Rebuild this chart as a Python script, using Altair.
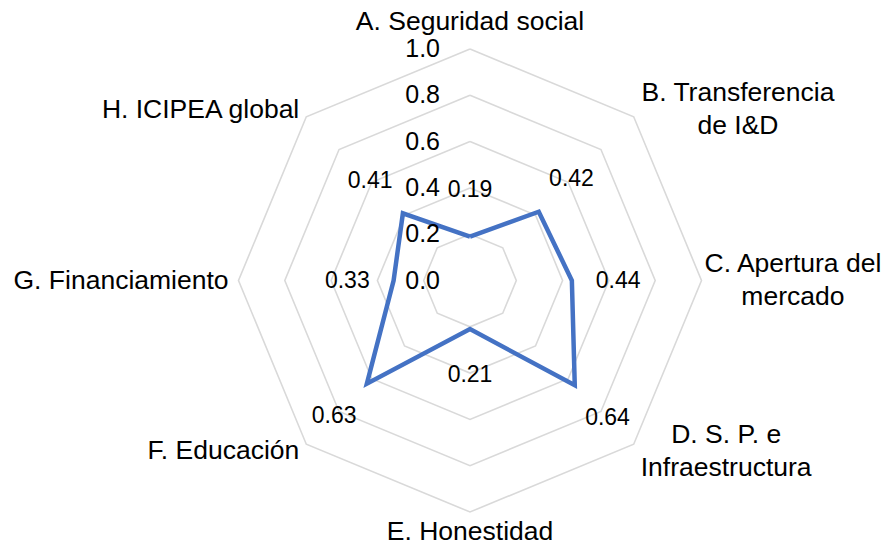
import math
import altair as alt
import pandas as pd

# ---------------- data ----------------
categories = [
    "A. Seguridad social",
    "B. Transferencia\nde I&D",
    "C. Apertura del\nmercado",
    "D. S. P. e\nInfraestructura",
    "E. Honestidad",
    "F. Educación",
    "G. Financiamiento",
    "H. ICIPEA global",
]
values = [0.19, 0.42, 0.44, 0.64, 0.21, 0.63, 0.33, 0.41]
value_labels = ["0.19", "0.42", "0.44", "0.64", "0.21", "0.63", "0.33", "0.41"]
tick_values = [0.0, 0.2, 0.4, 0.6, 0.8, 1.0]
tick_labels = ["0.0", "0.2", "0.4", "0.6", "0.8", "1.0"]

# ---------------- layout ----------------
W, H = 877, 534          # drawing area (page has 8px margin)
CX, CY = 462, 272.5      # centre of the radar in plot pixels
R = 231.5                # pixel radius of value 1.0
N = len(categories)
FONT = "Liberation Sans"
CAT_SIZE = 26.5
TICK_SIZE = 25
VAL_SIZE = 23
LINE_H = 33
LINE_BLUE = "#4472C4"
GRID = "#d9d9d9"
XMAX = (W - CX) / R

# Arial/Liberation Sans advance widths (per 1000 em) to centre two-line labels
AW = {" ": 278, ".": 278, "&": 667, "A": 667, "B": 667, "C": 722, "D": 722,
      "E": 667, "F": 611, "G": 778, "H": 722, "I": 278, "P": 667, "S": 667,
      "T": 611, "a": 556, "b": 556, "c": 500, "d": 556, "e": 556, "f": 278,
      "g": 556, "i": 222, "l": 222, "m": 833, "n": 556, "o": 556, "p": 556,
      "r": 333, "s": 500, "t": 278, "u": 556, "ó": 556}


def half_width_units(label):
    w = max(sum(AW.get(ch, 556) for ch in line) for line in label.split("\n"))
    return w / 1000 * CAT_SIZE / 2 / R


xscale = alt.Scale(domain=[-CX / R, XMAX], nice=False, zero=False)
yscale = alt.Scale(domain=[-(H - CY) / R, CY / R], nice=False, zero=False)

ANG = f"datum.idx * 2 * PI / {N}"

# grid rings (0.2 .. 1.0), closed polygons
ring_rows = []
for t in tick_values[1:]:
    for i in range(N + 1):
        ring_rows.append({"ring": t, "idx": i % N, "ord": i})
rings_df = pd.DataFrame(ring_rows)

# series (closed)
series_df = pd.DataFrame({"idx": list(range(N)) + [0],
                          "ord": list(range(N + 1)),
                          "value": values + [values[0]]})

vals_df = pd.DataFrame({"idx": list(range(N)), "value": values, "lab": value_labels})
cats_df = pd.DataFrame({"idx": list(range(N)), "cat": categories,
                        "hw": [half_width_units(c) for c in categories],
                        "shift": [(c.count("\n")) * LINE_H / 2 / R for c in categories]})
ticks_df = pd.DataFrame({"v": tick_values, "lab": tick_labels})

enc_xy = dict(
    x=alt.X("px:Q", scale=xscale, axis=None),
    y=alt.Y("py:Q", scale=yscale, axis=None),
)

rings = alt.Chart(rings_df).transform_calculate(
    a=ANG
).transform_calculate(
    px="datum.ring * sin(datum.a)", py="datum.ring * cos(datum.a)"
).mark_line(color=GRID, strokeWidth=1.6).encode(
    detail="ring:N", order="ord:Q", **enc_xy
)

series = alt.Chart(series_df).transform_calculate(
    a=ANG
).transform_calculate(
    px="datum.value * sin(datum.a)", py="datum.value * cos(datum.a)"
).mark_line(color=LINE_BLUE, strokeWidth=4.5, strokeJoin="miter").encode(
    order="ord:Q", **enc_xy
)

val_text = alt.Chart(vals_df).transform_calculate(
    a=ANG
).transform_calculate(
    px="(datum.value + 0.2) * sin(datum.a)", py="(datum.value + 0.2) * cos(datum.a)"
).mark_text(font=FONT, fontSize=VAL_SIZE, color="#000000", align="center",
            baseline="middle").encode(text="lab:N", **enc_xy)

tick_text = alt.Chart(ticks_df).transform_calculate(
    px="0", py="datum.v"
).mark_text(font=FONT, fontSize=TICK_SIZE, color="#000000", align="right",
            baseline="middle", dx=-30).encode(text="lab:N", **enc_xy)

cat_base = alt.Chart(cats_df).transform_calculate(
    a=ANG
).transform_calculate(
    s="sin(datum.a)", c="cos(datum.a)"
).transform_calculate(
    rl="abs(datum.s) < 0.1 ? (datum.c > 0 ? 1.115 : 1.085) : 1.043"
).transform_calculate(
    px=f"datum.s > 0.1 ? min(datum.rl * datum.s + datum.hw, {XMAX} - datum.hw - {3 / R}) : datum.rl * datum.s",
    py="datum.rl * datum.c + datum.shift",
)

cat_center = cat_base.transform_filter("datum.s >= -0.1").mark_text(
    font=FONT, fontSize=CAT_SIZE, color="#000000", align="center",
    baseline="middle", lineBreak="\n", lineHeight=LINE_H
).encode(text="cat:N", **enc_xy)

cat_right = cat_base.transform_filter("datum.s < -0.1").mark_text(
    font=FONT, fontSize=CAT_SIZE, color="#000000", align="right",
    baseline="middle", lineBreak="\n", lineHeight=LINE_H
).encode(text="cat:N", **enc_xy)

chart = alt.layer(rings, series, tick_text, val_text, cat_center, cat_right).properties(
    width=W, height=H, padding=0, autosize=alt.AutoSizeParams(type="none"),
    background="#ffffff",
).configure_view(stroke=None)

chart.save("out.html", embed_options={"renderer": "svg", "actions": False})
